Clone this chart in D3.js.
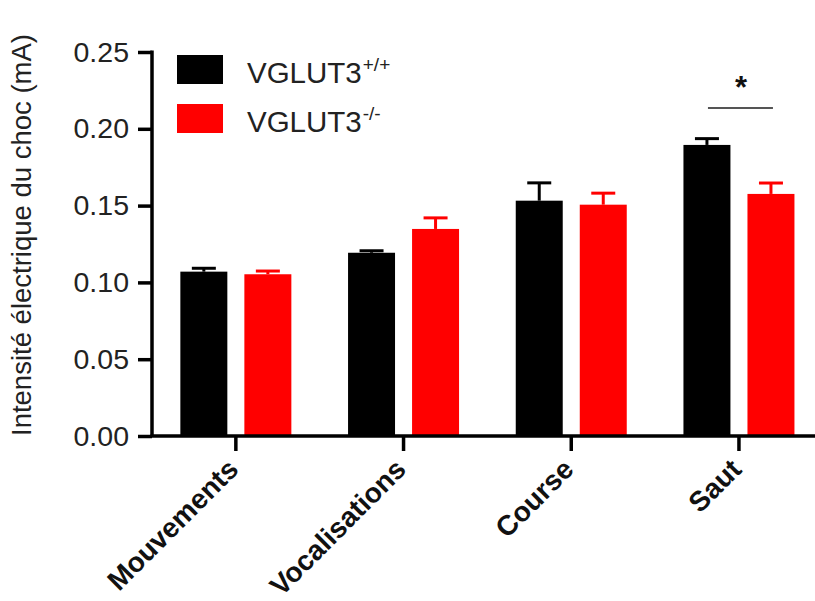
<!DOCTYPE html>
<html>
<head>
<meta charset="utf-8">
<script src="https://cdn.jsdelivr.net/npm/d3@7"></script>
<style>
  html, body { margin: 0; padding: 0; background: #fff; }
  svg { display: block; font-family: "Liberation Sans", Arial, sans-serif; }
</style>
</head>
<body>
<svg id="chart" width="815" height="601"></svg>
<script>
const categories = ["Mouvements", "Vocalisations", "Course", "Saut"];
const seriesNames = ["VGLUT3", "VGLUT3"];
const seriesSup = ["+/+", "-/-"];
const wtMeans = [0.107, 0.1193, 0.1532, 0.1895];
const wtSem   = [0.0022, 0.0013, 0.0116, 0.0041];
const koMeans = [0.1053, 0.1348, 0.1506, 0.1576];
const koSem   = [0.0021, 0.0072, 0.0075, 0.0071];
const yTicks = [0, 0.05, 0.10, 0.15, 0.20, 0.25];
const yTitle = "Intensité électrique du choc (mA)";
const sigCategory = "Saut";
const sigLabel = "*";

const colors = ["#000000", "#ff0000"];
const series = [
  { name: seriesNames[0], sup: seriesSup[0], means: wtMeans, sem: wtSem, color: colors[0] },
  { name: seriesNames[1], sup: seriesSup[1], means: koMeans, sem: koSem, color: colors[1] }
];

const svg = d3.select("#chart");
const axisX0 = 152, axisY0 = 436;

const y = d3.scaleLinear().domain([0, 0.25]).range([axisY0, 52]);
const x = d3.scaleBand().domain(categories).range([axisX0, axisX0 + 4 * 167.7]).paddingInner(0).paddingOuter(0);
const x1 = d3.scaleBand().domain([0, 1]).range([-55.5, 55.5]).paddingInner(0.266).paddingOuter(0);

// bars
series.forEach((s, si) => {
  const g = svg.append("g");
  categories.forEach((c, ci) => {
    const cx = x(c) + x.bandwidth() / 2;
    const bx = cx + x1(si);
    const bw = x1.bandwidth();
    g.append("rect")
      .attr("x", bx).attr("y", y(s.means[ci]))
      .attr("width", bw).attr("height", y(0) - y(s.means[ci]))
      .attr("fill", s.color);
    const top = y(s.means[ci] + s.sem[ci]);
    const mid = bx + bw / 2;
    g.append("line")
      .attr("x1", mid).attr("x2", mid)
      .attr("y1", y(s.means[ci])).attr("y2", top)
      .attr("stroke", s.color).attr("stroke-width", 3);
    g.append("line")
      .attr("x1", mid - 12).attr("x2", mid + 12)
      .attr("y1", top).attr("y2", top)
      .attr("stroke", s.color).attr("stroke-width", 3);
  });
});

// y axis
const yAxis = d3.axisLeft(y).tickValues(yTicks).tickFormat(d3.format(".2f")).tickSize(14).tickPadding(9);
const yg = svg.append("g").attr("transform", `translate(${axisX0},0)`).call(yAxis);
yg.select(".domain").attr("d", `M0,${y(0.25) - 1.5}V${axisY0}`).attr("stroke", "#000").attr("stroke-width", 3.5);
yg.selectAll(".tick line").attr("stroke", "#000").attr("stroke-width", 3.5);
yg.selectAll(".tick text").attr("font-size", 28.5).attr("fill", "#222")
  .attr("font-family", "Liberation Sans, Arial, sans-serif");

// x axis
const xAxis = d3.axisBottom(x).tickSize(15).tickPadding(4);
const xg = svg.append("g").attr("transform", `translate(0,${axisY0})`).call(xAxis);
xg.select(".domain").attr("d", `M${axisX0 - 1.5},0H815`).attr("stroke", "#000").attr("stroke-width", 3.5);
xg.selectAll(".tick line").attr("stroke", "#000").attr("stroke-width", 3.5);
xg.selectAll(".tick text")
  .attr("font-size", 28).attr("font-weight", "bold").attr("fill", "#111")
  .attr("font-family", "Liberation Sans, Arial, sans-serif")
  .attr("text-anchor", "end")
  .attr("dy", "0.71em")
  .attr("transform", "translate(-10,21) rotate(-45)")
  .attr("x", 0).attr("y", 0);

// y title
svg.append("text")
  .attr("transform", `translate(31,${235}) rotate(-90)`)
  .attr("text-anchor", "middle")
  .attr("font-size", 27.5).attr("fill", "#222")
  .text(yTitle);

// legend
const legend = svg.append("g");
series.forEach((s, i) => {
  const ly = 55 + i * 49;
  legend.append("rect").attr("x", 177).attr("y", ly).attr("width", 46).attr("height", 29).attr("fill", s.color);
  const t = legend.append("text").attr("x", 247).attr("y", ly + 28).attr("font-size", 29.5).attr("fill", "#222");
  t.append("tspan").text(s.name);
  t.append("tspan").attr("font-size", 19).attr("dy", -12).attr("dx", 1).text(s.sup);
});

// significance
const sc = x(sigCategory) + x.bandwidth() / 2;
svg.append("line").attr("x1", sc - 31).attr("x2", sc + 34).attr("y1", 108).attr("y2", 108)
  .attr("stroke", "#555").attr("stroke-width", 2);
svg.append("text").attr("x", sc + 2).attr("y", 98).attr("text-anchor", "middle")
  .attr("font-size", 31).attr("font-weight", "bold").attr("fill", "#111").text(sigLabel);
</script>
</body>
</html>
